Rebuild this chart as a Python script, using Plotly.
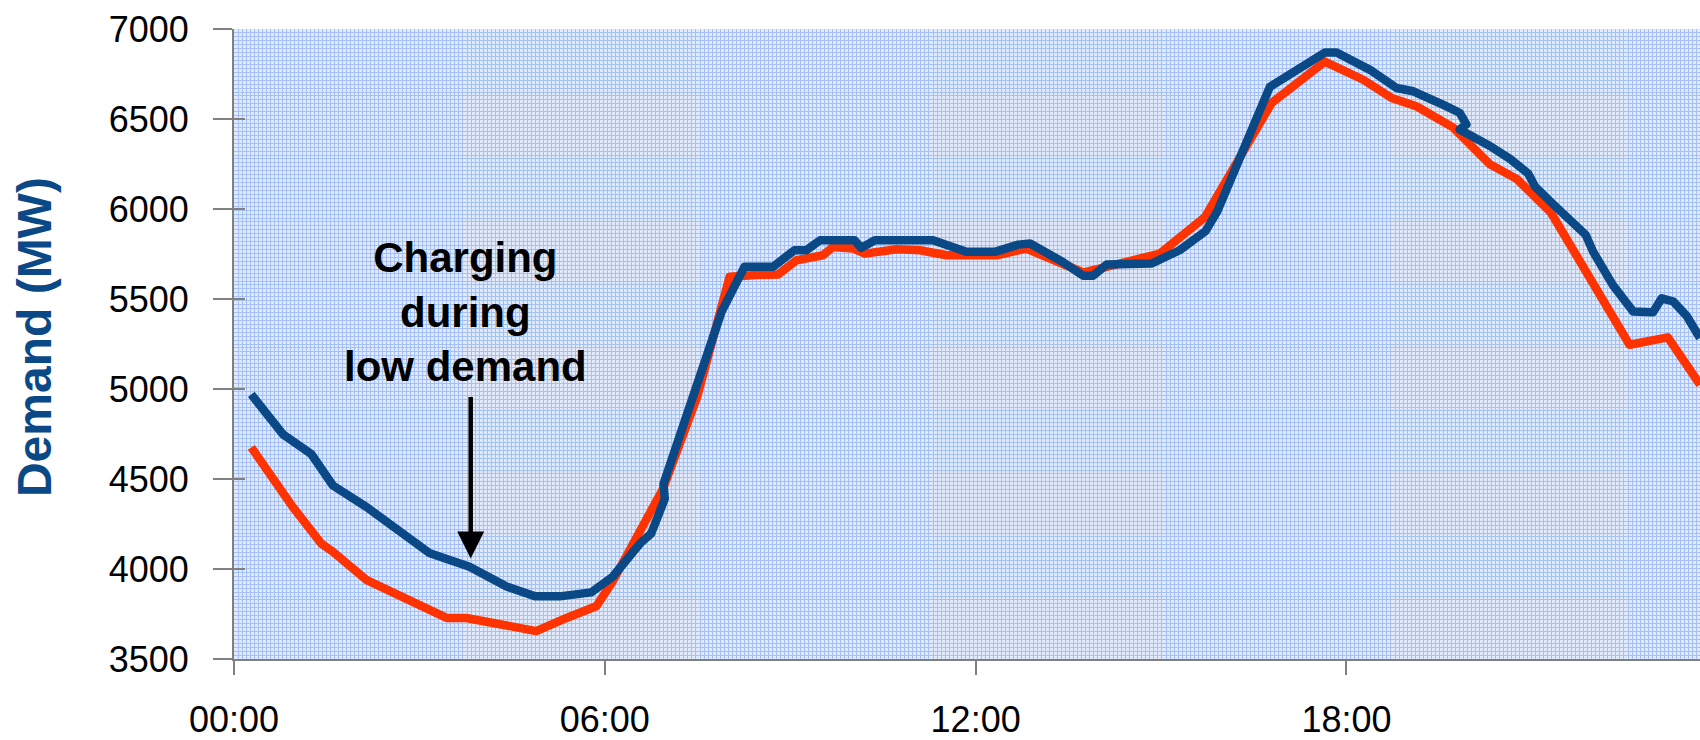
import plotly.graph_objects as go

# Daily demand profile, hours after midnight vs MW
base_hours = [0.28, 0.95, 1.41, 1.60, 2.14, 2.68, 3.44, 3.76, 4.89, 5.38,
              5.86, 6.11, 6.94, 7.49, 8.02, 8.45, 8.80, 9.10, 9.53, 9.69,
              10.02, 10.21, 10.72, 11.10, 11.53, 12.34, 12.82, 13.74, 14.98, 15.71,
              16.79, 17.65, 18.27, 18.73, 19.13, 19.73, 20.32, 20.76, 21.31, 22.58,
              23.20, 23.72]
base_mw = [4676, 4345, 4142, 4096, 3940, 3848, 3728, 3728, 3655, 3728,
           3793, 3921, 4444, 4952, 5624, 5633, 5636, 5715, 5743, 5789,
           5780, 5752, 5776, 5771, 5743, 5743, 5780, 5647, 5752, 5955,
           6590, 6819, 6718, 6617, 6571, 6452, 6249, 6166, 5979, 5246,
           5287, 5024]

# Demand including overnight charging load
charging_hours = [0.28, 0.79, 1.25, 1.60, 2.14, 2.68, 3.17, 3.81, 4.41, 4.87,
                  5.27, 5.78, 6.13, 6.57, 6.75, 6.97, 6.95, 7.89, 8.26, 8.72,
                  9.07, 9.26, 9.48, 10.04, 10.15, 10.37, 11.31, 11.85, 12.31, 12.69,
                  12.88, 13.41, 13.74, 13.90, 14.12, 14.85, 15.30, 15.72, 15.91, 16.76,
                  17.03, 17.65, 17.84, 18.38, 18.81, 19.08, 19.56, 19.83, 19.94, 19.83,
                  20.32, 20.64, 20.94, 21.05, 21.34, 21.87, 21.99, 22.31, 22.64, 22.96,
                  23.10, 23.29, 23.51, 23.72]
charging_mw = [4970, 4749, 4639, 4464, 4345, 4216, 4087, 4013, 3903, 3848,
               3848, 3870, 3958, 4142, 4197, 4390, 4473, 5430, 5679, 5679,
               5771, 5771, 5826, 5826, 5784, 5826, 5826, 5762, 5762, 5802,
               5808, 5706, 5629, 5629, 5692, 5697, 5771, 5877, 5987, 6678,
               6737, 6869, 6869, 6773, 6672, 6654, 6580, 6535, 6470, 6442,
               6350, 6280, 6197, 6125, 6028, 5857, 5763, 5577, 5430, 5427,
               5504, 5486, 5403, 5283]

x_tick_vals = [0, 6, 12, 18]
x_tick_text = ["00:00", "06:00", "12:00", "18:00"]
y_tick_vals = [3500, 4000, 4500, 5000, 5500, 6000, 6500, 7000]

X_RANGE = [0, 23.72]
Y_RANGE = [3500, 7000]

BLUE = "#0b4886"
RED = "#ff3300"
AXIS_GREY = "#808080"
MESH = "#a4c0f4"
FONT = "Arial, Liberation Sans, sans-serif"

fig = go.Figure()
fig.add_trace(go.Scatter(
    x=base_hours, y=base_mw, mode="lines",
    line=dict(color=RED, width=8.5), hoverinfo="skip", showlegend=False,
))
fig.add_trace(go.Scatter(
    x=charging_hours, y=charging_mw, mode="lines", yaxis="y2",
    line=dict(color=BLUE, width=8.5), hoverinfo="skip", showlegend=False,
))

fig.update_layout(
    width=1700, height=740,
    margin=dict(l=234, r=0, t=29, b=77, pad=0),
    paper_bgcolor="white",
    plot_bgcolor="#e1eafc",
    font=dict(family=FONT, color="black", size=36),
    showlegend=False,
    xaxis=dict(
        range=X_RANGE, tickvals=x_tick_vals, ticktext=x_tick_text,
        ticks="outside", ticklen=14, tickwidth=2, tickcolor=AXIS_GREY,
        showline=True, linecolor=AXIS_GREY, linewidth=2,
        showgrid=False, zeroline=False,
        tickfont=dict(size=36, color="black", family=FONT),
        ticklabelstandoff=14,
        minor=dict(dtick=0.065, tick0=0, showgrid=True,
                   gridcolor=MESH, gridwidth=1, ticks=""),
    ),
    yaxis=dict(
        range=Y_RANGE, tickvals=y_tick_vals,
        ticks="outside", ticklen=19, tickwidth=2, tickcolor=AXIS_GREY,
        showline=True, linecolor=AXIS_GREY, linewidth=2,
        showgrid=False, zeroline=False,
        tickfont=dict(size=36, color="black", family=FONT),
        ticklabelstandoff=17,
        minor=dict(dtick=21.875, tick0=3500, showgrid=True,
                   gridcolor=MESH, gridwidth=1, ticks=""),
    ),
    yaxis2=dict(
        range=Y_RANGE, tickvals=y_tick_vals, overlaying="y", side="left",
        ticks="inside", ticklen=11, tickwidth=2, tickcolor=AXIS_GREY,
        showticklabels=False, showgrid=False, zeroline=False, showline=False,
    ),
)

# Axis title
fig.add_annotation(
    text="Demand (MW)", textangle=-90,
    xref="paper", yref="paper", x=(34 - 234) / 1466, y=0.511,
    xanchor="center", yanchor="middle", showarrow=False,
    font=dict(family=FONT, size=48, color=BLUE, weight="bold"),
)

# Callout text and arrow
fig.add_annotation(
    text="Charging<br>during<br>low demand",
    x=3.75, y=5427, xanchor="center", yanchor="middle", showarrow=False,
    font=dict(family=FONT, size=42, color="black", weight="bold"),
)
fig.add_annotation(
    text="", x=3.83, y=4058, ax=0, ay=-163,
    showarrow=True, arrowhead=2, arrowsize=1.2, arrowwidth=4.5,
    arrowcolor="black", standoff=0,
)

fig.write_html(
    "out.html",
    post_script=(
        "document.querySelectorAll('.scatterlayer .js-line').forEach("
        "function(p){p.style.strokeLinejoin='round';});"
    ),
)
